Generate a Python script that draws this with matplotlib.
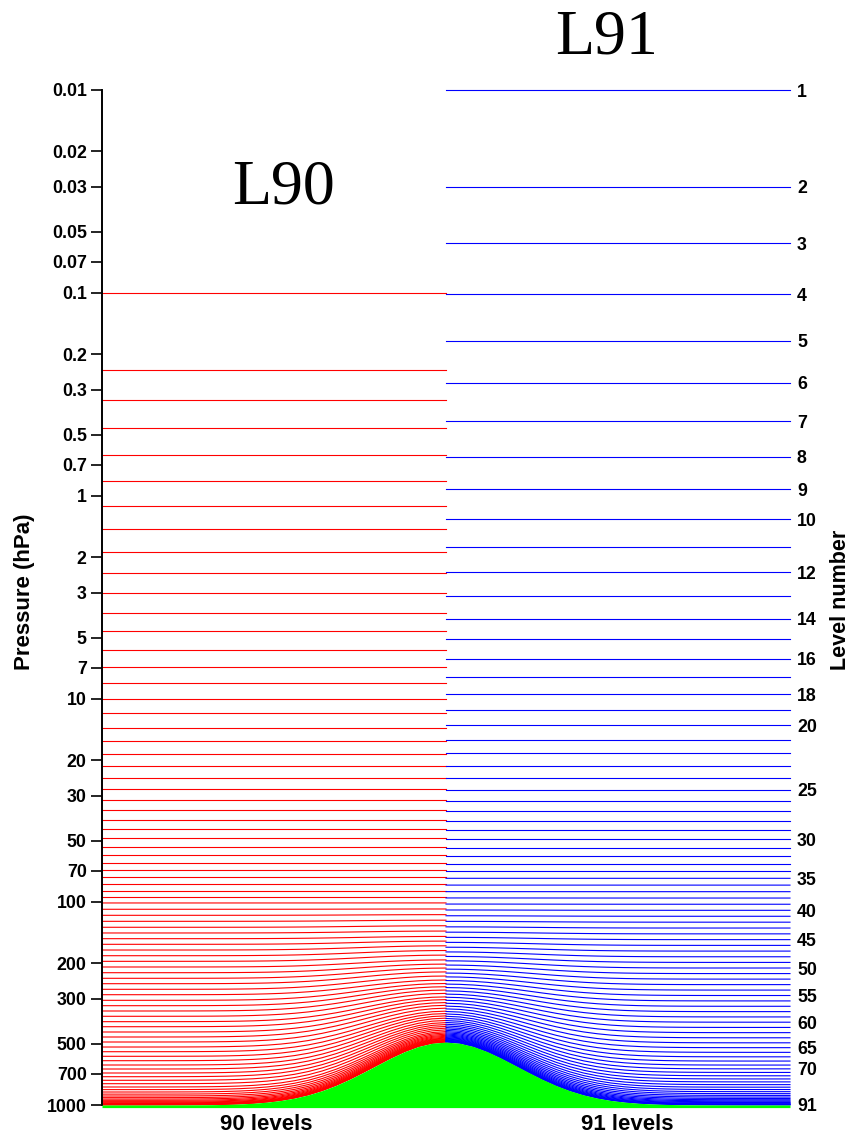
import matplotlib
matplotlib.use("Agg")
import matplotlib.pyplot as plt
from matplotlib.ticker import NullLocator
import numpy as np

# L91 half-level coefficients, a in Pa (index 0 = model top, 91 = surface)
a_half_91 = [0.000000, 2.000040, 3.980832, 7.387186, 12.908319, 21.413612,
             33.952858, 51.746601, 76.167656, 108.715561, 150.986023,
             204.637451, 271.356506, 352.824493, 450.685791, 566.519226,
             701.813354, 857.945801, 1036.166504, 1237.585449, 1463.163940,
             1713.709595, 1989.874390, 2292.155518, 2620.898438, 2976.302246,
             3358.425781, 3767.196045, 4202.416504, 4663.776367, 5150.859863,
             5663.156250, 6199.839355, 6759.727051, 7341.469727, 7942.926270,
             8564.624023, 9208.305664, 9873.560547, 10558.881836, 11262.484375,
             11982.662109, 12713.897461, 13453.225586, 14192.009766,
             14922.685547, 15638.053711, 16329.560547, 16990.623047,
             17613.281250, 18191.029297, 18716.968750, 19184.544922,
             19587.513672, 19919.796875, 20175.394531, 20348.916016,
             20434.158203, 20426.218750, 20319.011719, 20107.031250,
             19785.357422, 19348.775391, 18798.822266, 18141.296875,
             17385.595703, 16544.585938, 15633.566406, 14665.645508,
             13653.219727, 12608.383789, 11543.166992, 10471.310547,
             9405.222656, 8356.252930, 7335.164551, 6353.920898, 5422.802734,
             4550.215820, 3743.464355, 3010.146973, 2356.202637, 1784.854614,
             1297.656128, 895.193542, 576.314148, 336.772369, 162.043427,
             54.208336, 6.575628, 0.003160, 0.000000]
b_half_91 = [0.0] * 35 + [
    0.000014, 0.000055, 0.000131, 0.000279, 0.000548, 0.001000, 0.001701,
    0.002765, 0.004267, 0.006322, 0.009035, 0.012508, 0.016860, 0.022189,
    0.028610, 0.036227, 0.045146, 0.055474, 0.067316, 0.080777, 0.095964,
    0.112979, 0.131935, 0.152934, 0.176091, 0.201520, 0.229315, 0.259554,
    0.291993, 0.326329, 0.362203, 0.399205, 0.436906, 0.475016, 0.513280,
    0.551458, 0.589317, 0.626559, 0.662934, 0.698224, 0.732224, 0.764679,
    0.795385, 0.824185, 0.850950, 0.875518, 0.897767, 0.917651, 0.935157,
    0.950274, 0.963007, 0.973466, 0.982238, 0.989153, 0.994204, 0.997630,
    1.000000]

# L90 full levels: pressure over flat ground (hPa) and terrain weight b
p_90 = [0.1, 0.24, 0.338, 0.464, 0.630, 0.844, 1.116, 1.454, 1.888, 2.395,
        3.015, 3.770, 4.640, 5.716, 6.956, 8.341, 9.966, 11.76, 13.85, 16.10,
        18.60, 21.46, 24.50, 27.77, 31.34, 35.11, 39.47, 43.84, 48.56, 53.41,
        58.48, 64.04, 69.81, 75.56, 81.52, 87.98, 94.49, 101.1, 108.6, 116.3,
        124.5, 133.2, 142.1, 151.6, 161.6, 172.4, 183.9, 196.0, 209.0, 223.0,
        237.6, 252.6, 269.2, 286.2, 305.0, 324.2, 344.3, 365.6, 388.6, 411.5,
        436.9, 462.4, 489.4, 518.0, 546.4, 575.6, 605.0, 635.3, 664.8, 695.6,
        725.4, 755.6, 785.3, 815.2, 840.0, 863.0, 884.0, 903.0, 920.0, 935.0,
        948.0, 959.0, 968.0, 976.0, 982.0, 987.0, 991.0, 994.0, 996.5, 998.5]
b_90 = [0.0] * 37 + [
    0.0001, 0.0007, 0.0017, 0.0031, 0.0045, 0.0060, 0.0075, 0.0113, 0.0158,
    0.0206, 0.0261, 0.0316, 0.0406, 0.0511, 0.0619, 0.0738, 0.0860, 0.1038,
    0.1229, 0.1428, 0.1639, 0.1866, 0.2133, 0.2430, 0.2735, 0.3055, 0.3393,
    0.3763, 0.4150, 0.4540, 0.4940, 0.5330, 0.5765, 0.6180, 0.6610, 0.7030,
    0.7455, 0.7810, 0.8140, 0.8440, 0.8714, 0.8950, 0.9160, 0.9350, 0.9500,
    0.9618, 0.9710, 0.9780, 0.9840, 0.9890, 0.9930, 0.9960, 0.9980]

# surface pressure (hPa) across the section, mountain in the middle
x_surf = [i / 50 for i in range(51)]
ps = [1000.0, 1000.0, 1000.0, 1000.0, 999.8, 999.5, 999.0, 998.1, 996.4,
      993.4, 988.3, 980.3, 967.9, 949.9, 924.7, 891.7, 850.1, 801.3, 747.1,
      690.8, 636.5, 587.0, 545.8, 515.0, 496.2, 489.8, 496.2, 515.0, 545.8,
      587.0, 636.5, 690.8, 747.1, 801.3, 850.1, 891.7, 924.7, 949.9, 967.9,
      980.3, 988.3, 993.4, 996.4, 998.1, 999.0, 999.5, 999.8, 1000.0, 1000.0,
      1000.0, 1000.0]

# pressure axis ticks and the level numbers written on the right
p_ticks = [0.01, 0.02, 0.03, 0.05, 0.07, 0.1, 0.2, 0.3, 0.5, 0.7, 1, 2, 3,
           5, 7, 10, 20, 30, 50, 70, 100, 200, 300, 500, 700, 1000]
p_tick_labels = ["0.01", "0.02", "0.03", "0.05", "0.07", "0.1", "0.2", "0.3",
                 "0.5", "0.7", "1", "2", "3", "5", "7", "10", "20", "30",
                 "50", "70", "100", "200", "300", "500", "700", "1000"]
level_labels = [1, 2, 3, 4, 5, 6, 7, 8, 9, 10, 12, 14, 16, 18, 20, 25, 30,
                35, 40, 45, 50, 55, 60, 65, 70, 91]

plt.rcParams['font.family'] = ['Liberation Sans', 'DejaVu Sans']

x_surf = np.array(x_surf)
ps = np.array(ps)
left = x_surf <= 0.5
right = x_surf >= 0.5

# full levels of L91 from the half levels
a_half_91 = np.array(a_half_91) / 100.0
b_half_91 = np.array(b_half_91)
a_91 = 0.5 * (a_half_91[:-1] + a_half_91[1:])
b_91 = 0.5 * (b_half_91[:-1] + b_half_91[1:])

fig = plt.figure(figsize=(8.51, 11.37), dpi=100)
ax = fig.add_axes([102 / 851, 32 / 1137, 688 / 851, 1015 / 1137])

# L90 on the left half, red
for p0, b in zip(p_90, b_90):
    ax.plot(x_surf[left], p0 + b * (ps[left] - 1000.0), color="#ff0000",
            lw=0.8, clip_on=False, zorder=2)

# L91 on the right half, blue
for a, b in zip(a_91, b_91):
    ax.plot(x_surf[right], a + b * ps[right], color="#0000ff",
            lw=0.8, clip_on=False, zorder=2)

# the mountain
ax.fill_between(x_surf, ps, 1030, color="#00ff00", lw=0, clip_on=False,
                zorder=3)

ax.set_yscale("log")
ax.set_ylim(1000, 0.01)
ax.set_xlim(0, 1)
ax.set_yticks(p_ticks)
ax.set_yticklabels(p_tick_labels)
ax.yaxis.set_minor_locator(NullLocator())
ax.set_xticks([])
ax.tick_params(axis="y", direction="out", length=8, width=1.2, pad=3,
               labelsize=12.8)
for t in ax.get_yticklabels():
    t.set_fontweight("bold")
for side in ["top", "right", "bottom"]:
    ax.spines[side].set_visible(False)
ax.spines["left"].set_linewidth(1.4)

# level numbers on the right, at the L91 pressures over flat ground
ax2 = ax.twinx()
ax2.set_yscale("log")
ax2.set_ylim(1000, 0.01)
ax2.set_yticks([a_91[n - 1] + b_91[n - 1] * 1000.0 for n in level_labels])
ax2.set_yticklabels([str(n) for n in level_labels])
ax2.yaxis.set_minor_locator(NullLocator())
ax2.tick_params(axis="y", length=0, pad=5, labelsize=12.8)
for t in ax2.get_yticklabels():
    t.set_fontweight("bold")
for side in ax2.spines:
    ax2.spines[side].set_visible(False)

# titles and axis names
fig.text(283 / 851, 1 - 188 / 1137, "L90", family="Liberation Serif",
         fontsize=46, ha="center", va="center")
fig.text(607 / 851, 1 - 39 / 1137, "L91", family="Liberation Serif",
         fontsize=46, ha="center", va="center")
fig.text(25 / 851, 1 - 592 / 1137, "Pressure (hPa)", rotation=90,
         fontsize=16, fontweight="bold", ha="center", va="center")
fig.text(840 / 851, 1 - 600 / 1137, "Level number", rotation=90,
         fontsize=15.5, fontweight="bold", ha="center", va="center")
fig.text(266 / 851, 1 - 1125 / 1137, "90 levels", fontsize=16,
         fontweight="bold", ha="center", va="center")
fig.text(627 / 851, 1 - 1125 / 1137, "91 levels", fontsize=16,
         fontweight="bold", ha="center", va="center")

fig.savefig("out.png", dpi=100)
